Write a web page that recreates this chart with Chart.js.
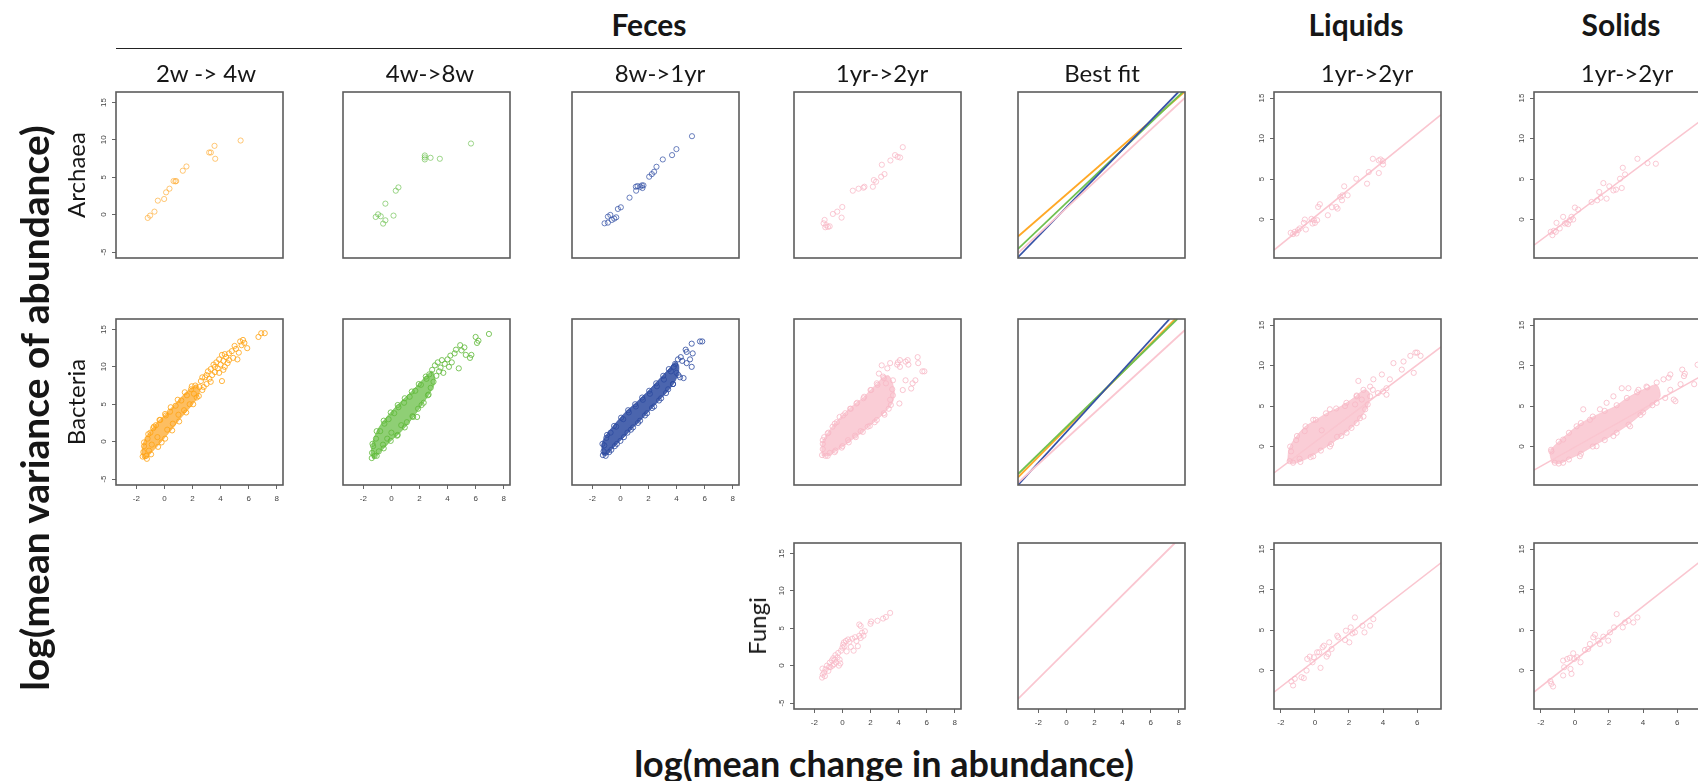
<!DOCTYPE html>
<html>
<head>
<meta charset="utf-8">
<script src="https://cdn.jsdelivr.net/npm/chart.js@4.4.1/dist/chart.umd.min.js"></script>
<style>
  body { margin: 0; width: 1698px; height: 781px; overflow: hidden; background: #fff; position: relative; font-family: Lato, "Open Sans", sans-serif; color: #161616; }
  canvas { position: absolute; }
  .t { position: absolute; white-space: nowrap; transform: translate(-50%, -50%); line-height: 1; }
  .v { transform: translate(-50%, -50%) rotate(-90deg); }
  .h { font-weight: bold; font-size: 30px; }
  .s { font-size: 24px; }
  .r { font-size: 24px; }
  .big { font-weight: bold; font-size: 36px; }
  .bigv { font-weight: bold; font-size: 39px; }
</style>
</head>
<body>
<div id="fecesLine" style="position:absolute;left:116px;top:48px;width:1066px;height:0;border-top:1.6px solid #222"></div>

<script>
// ---- axis ranges and tick labels ----
const fecesX = [-3.45, 8.45], fecesY = [-5.8, 16.4];
const sepX = [-2.4, 7.4], sepY = [-4.75, 15.75];
const fecesXTicks = [-2, 0, 2, 4, 6, 8];
const fecesYTicks = [-5, 0, 5, 10, 15];
const sepXTicks = [-2, 0, 2, 4, 6];
const sepYTicks = [0, 5, 10, 15];

// ---- Archaea (feces) ----
const archaea2w4w = [[-1.19,-0.44],[-1.02,-0.13],[-0.71,0.4],[-0.47,1.87],[-0.02,2.09],[0.12,2.98],[0.36,3.47],[0.65,4.49],[0.78,4.45],[0.84,4.49],[1.31,5.87],[1.57,6.44],[3.19,8.31],[3.31,8.31],[3.57,9.2],[3.62,7.47],[5.43,9.91]];
const archaea4w8w = [[-1.12,-0.31],[-0.95,0.04],[-0.76,-0.22],[-0.59,-1.2],[-0.43,-0.76],[-0.43,1.47],[0.15,-0.13],[0.31,3.2],[0.5,3.64],[2.38,7.91],[2.38,7.65],[2.38,7.38],[2.79,7.6],[3.45,7.47],[5.67,9.51]];
const archaea8w1yr = [[-1.13,-1.16],[-0.89,-1.07],[-0.89,-0.27],[-0.72,-0.04],[-0.61,-0.71],[-0.44,-0.53],[-0.3,-0.36],[-0.18,0.76],[0.03,0.98],[0.65,2.27],[1.12,3.2],[1.1,3.73],[1.22,3.82],[1.41,3.73],[1.53,3.91],[1.64,3.91],[1.57,3.56],[2.05,5.07],[2.24,5.42],[2.4,5.73],[2.57,6.4],[3.02,7.38],[3.68,7.96],[3.99,8.76],[5.1,10.49]];
const archaea1yr2yr = [[-1.34,-1.16],[-1.27,-0.71],[-1.15,-1.42],[-1.03,-1.64],[-0.91,-1.56],[-1.22,-1.69],[-0.68,0.09],[-0.37,0.4],[-0.01,1.02],[-0.06,-0.4],[0.74,3.2],[1.15,3.47],[1.5,3.6],[1.57,3.73],[2.17,3.73],[2.24,4.62],[2.4,4.4],[2.76,5.07],[3.0,5.42],[2.81,6.67],[3.42,7.24],[3.75,7.96],[3.94,7.73],[4.11,7.64],[4.3,9.02]];
const fitArchaea = {
  orange: [[-3.45,-2.93],[8.4,16.4]],
  green:  [[-3.45,-4.58],[8.29,16.4]],
  blue:   [[-3.45,-5.69],[7.98,16.4]],
  pink:   [[-3.45,-5.16],[8.45,15.64]]
};

// ---- Bacteria (feces): dense core outline + individual points ----
const bacteria2w4wCore = [[-1.6,-1.3],[-1.5,-0.2],[-1.2,0.9],[-0.8,1.9],[-0.4,2.8],[0,3.5],[0.5,4.5],[1.0,5.5],[1.5,6.5],[2.0,7.3],[2.3,7.6],[2.5,7.0],[2.4,6.0],[2.0,5.0],[1.5,3.9],[1.0,2.8],[0.5,1.6],[0,0.5],[-0.5,-0.6],[-1.0,-1.6],[-1.3,-2.3],[-1.55,-2.2],[-1.6,-1.3]];
const bacteria2w4w = [[-1.55,-2.0],[-1.5,-1.4],[-1.45,-0.6],[-1.3,-1.9],[-1.2,0.4],[-1.1,-1.2],[-1.0,1.2],[-0.9,-0.4],[-0.8,1.8],[-0.6,2.2],[-0.5,0.6],[-0.3,2.9],[-0.2,-0.1],[0.1,3.5],[0.2,1.6],[0.4,4.0],[0.6,2.4],[0.8,4.8],[1.0,3.6],[1.2,5.5],[1.4,4.2],[1.6,6.2],[1.8,5.0],[1.9,7.0],[2.1,6.4],[2.2,7.5],[2.3,5.9],
  [-1.45,-0.1],[-1.15,1.0],[-0.75,2.0],[-0.35,2.9],[0.05,3.7],[0.45,4.6],[0.95,5.6],[1.45,6.6],[1.95,7.4],[2.45,6.1],[2.05,5.0],[1.55,3.9],[1.05,2.7],[0.55,1.5],[0.05,0.4],[-0.45,-0.7],[-0.95,-1.7],[-1.25,-2.3],
  [2.5,7.3],[2.6,8.1],[2.7,6.9],[2.7,8.6],[2.8,7.3],[2.9,8.6],[3.0,7.7],[3.0,8.9],[3.1,9.4],[3.2,8.4],[3.3,9.7],[3.3,8.0],[3.4,8.9],[3.5,10.3],[3.6,9.3],[3.6,10.0],[3.7,10.6],[3.8,9.8],[3.9,11.0],[3.9,9.2],[4.0,10.3],[4.1,8.1],[4.1,11.6],[4.2,10.8],[4.2,9.6],[4.3,10.0],[4.3,11.7],[4.4,11.3],[4.5,10.5],[4.6,11.8],[4.6,10.9],[4.8,12.1],[4.9,11.2],[5.0,12.8],[5.1,12.4],[5.2,11.0],[5.3,11.9],[5.4,13.4],[5.5,12.9],[5.6,13.6],[5.7,13.2],[5.9,12.5],[6.7,14.0],[6.9,14.5],[7.15,14.5]];
const bacteria4w8wCore = [[-1.45,-1.6],[-1.35,-0.2],[-1.0,1.5],[-0.5,2.9],[0,4.0],[0.5,5.0],[1.0,5.9],[1.5,6.8],[2.0,7.8],[2.5,8.8],[2.9,9.4],[3.1,8.0],[2.7,6.4],[2.2,5.0],[1.6,3.4],[1.0,2.0],[0.5,1.0],[0,0.2],[-0.5,-0.8],[-1.0,-1.8],[-1.3,-2.3],[-1.45,-1.6]];
const bacteria4w8w = [[-1.4,-2.2],[-1.38,-1.5],[-1.3,-0.6],[-1.2,-1.9],[-1.1,0.4],[-0.9,-1.3],[-0.8,1.4],[-0.6,-0.4],[-0.5,2.4],[-0.3,0.4],[-0.2,3.0],[0,1.2],[0.2,3.8],[0.4,0.8],[0.5,4.6],[0.7,2.2],[0.9,5.2],[1.1,2.6],[1.3,6.0],[1.5,3.4],[1.7,6.8],[1.9,4.4],[1.83,3.3],[2.1,7.6],[2.3,5.2],[2.5,8.4],[2.6,6.2],[2.7,9.0],[2.8,7.2],[2.9,9.6],[3.0,8.0],[3.1,10.2],[3.2,8.8],[3.3,10.6],[3.4,9.4],[3.5,9.9],[3.6,10.9],[3.7,9.2],[3.8,10.4],[4.0,11.0],[4.1,10.0],[4.2,11.5],[4.3,10.6],[4.5,11.8],[4.6,12.3],[4.8,9.8],[4.9,12.9],[5.0,12.2],[5.2,12.6],[5.3,11.6],[5.6,11.2],[5.7,11.6],[6.0,14.0],[6.1,13.2],[6.2,13.5],[6.95,14.4],
  [-1.35,-0.3],[-1.05,1.4],[-0.55,2.8],[-0.05,3.9],[0.45,4.9],[0.95,5.8],[1.45,6.7],[1.95,7.7],[2.45,8.7],[2.65,6.3],[2.15,4.9],[1.55,3.3],[0.95,1.9],[0.45,0.9],[-0.05,0.1],[-0.55,-0.9],[-1.05,-1.9]];
const bacteria8w1yrCore = [[-1.3,-1.7],[-1.3,-0.2],[-1.0,0.9],[-0.5,2.1],[0,3.2],[0.5,4.2],[1.0,5.0],[1.5,5.9],[2.0,6.8],[2.5,7.8],[3.0,8.8],[3.5,9.8],[3.9,10.6],[4.15,10.2],[4.1,9.0],[3.8,7.8],[3.3,6.6],[2.8,5.6],[2.3,4.6],[1.8,3.6],[1.3,2.6],[0.8,1.7],[0.3,0.7],[-0.2,-0.2],[-0.6,-1.0],[-0.9,-1.7],[-1.1,-1.9],[-1.3,-1.7]];
const bacteria8w1yr = [[-1.25,-1.8],[-1.2,-1.3],[-1.15,-0.5],[-1.05,-1.9],[-1.0,0.5],[-0.8,-1.4],[-0.7,1.2],[-0.4,-0.6],[-0.3,2.0],[0,0.1],[0.2,3.0],[0.5,1.2],[0.6,3.9],[0.9,1.9],[1.1,4.7],[1.4,2.8],[1.6,5.6],[1.9,3.8],[2.1,6.4],[2.4,4.7],[2.6,7.4],[2.9,5.8],[3.1,8.3],[3.4,7.0],[3.6,9.4],[3.75,7.7],[3.9,10.4],[4.0,9.2],[4.13,8.9],[4.25,8.6],[4.1,11.0],[3.8,10.0],[4.5,8.5],[4.65,12.3],[4.72,10.5],[4.72,12.0],[4.96,11.0],[5.08,10.0],[5.08,13.1],[5.15,11.8],[5.67,13.4],[5.83,13.4],[4.4,10.8],[4.3,11.3],
  [-1.28,-0.3],[-0.95,0.9],[-0.45,2.1],[0.05,3.2],[0.55,4.2],[1.05,5.0],[1.55,5.9],[2.05,6.8],[2.55,7.8],[3.05,8.8],[3.45,9.7],[3.75,7.7],[3.25,6.5],[2.75,5.5],[2.25,4.5],[1.75,3.5],[1.25,2.5],[0.75,1.6],[0.25,0.6],[-0.25,-0.3],[-0.65,-1.1]];
const bacteria1yr2yrCore = [[-1.45,-1.9],[-1.45,-0.2],[-1.1,1.0],[-0.6,2.3],[0,3.5],[0.5,4.4],[1.0,5.2],[1.5,5.9],[2.0,6.9],[2.5,7.8],[2.9,8.6],[3.3,8.8],[3.6,7.6],[3.7,6.2],[3.5,5.0],[3.0,3.9],[2.5,3.0],[2.0,2.2],[1.5,1.4],[1.0,0.7],[0.5,0],[0,-0.7],[-0.5,-1.3],[-1.0,-1.9],[-1.45,-1.9]];
const bacteria1yr2yr = [[-1.45,-1.8],[-1.4,-1.0],[-1.4,-0.3],[-1.3,0.6],[-1.2,-1.9],[-1.0,1.2],[-0.9,-1.5],[-0.7,2.0],[-0.5,-1.2],[-0.4,2.6],[-0.2,3.3],[0,-0.6],[0.2,3.8],[0.4,0.2],[0.6,4.4],[0.9,0.8],[1.0,5.1],[1.3,1.4],[1.5,5.8],[1.8,2.0],[2.0,6.9],[2.3,2.6],[2.5,7.6],[2.6,9.1],[2.9,8.7],[3.0,3.6],[3.1,7.8],[3.3,4.4],[3.4,5.6],[3.6,6.2],[3.9,10.3],[3.95,10.6],[4.06,5.1],[4.1,10.9],[4.1,10.0],[4.3,6.9],[4.5,8.2],[4.5,10.7],[4.65,10.9],[4.7,10.3],[4.9,7.1],[5.0,7.8],[5.2,8.2],[5.36,11.3],[5.4,10.5],[5.7,9.4],[5.84,9.4],[3.6,8.2],[3.2,9.8],[2.8,10.2],[3.4,10.5],
  [-1.4,0.2],[-1.05,1.1],[-0.55,2.4],[0.05,3.5],[0.55,4.4],[1.05,5.2],[1.55,6.0],[2.05,6.9],[2.45,7.8],[2.95,8.5],[3.55,7.0],[3.45,4.9],[2.95,3.8],[2.45,2.9],[1.95,2.1],[1.45,1.3],[0.95,0.6],[0.45,-0.1],[-0.05,-0.8],[-0.55,-1.4],[-1.05,-1.9]];
const fitBacteria = {
  orange: [[-3.45,-4.78],[7.75,16.4]],
  green:  [[-3.45,-4.34],[7.9,16.4]],
  blue:   [[-3.45,-5.8],[7.35,16.4]],
  pink:   [[-3.45,-5.5],[8.45,14.94]]
};

// ---- Fungi (feces) ----
const fungi1yr2yr = [[-1.45,-1.6],[-1.4,-1.2],[-1.3,-0.9],[-1.42,-0.4],[-1.2,-0.5],[-1.1,0.0],[-1.0,-0.7],[-0.9,0.4],[-0.85,-0.2],[-0.75,0.7],[-0.65,1.0],[-0.6,0.2],[-0.5,1.4],[-0.45,0.4],[-0.35,1.1],[-0.3,1.7],[-0.25,0.0],[-0.2,0.8],[-0.15,0.3],[-0.1,2.0],[0,2.4],[0.05,2.8],[0.15,2.6],[0.25,3.3],[0.4,3.5],[0.5,3.2],[0.6,2.5],[0.7,3.6],[0.8,2.0],[0.9,3.8],[1.0,3.3],[1.1,2.6],[1.2,4.0],[1.3,3.7],[1.4,4.4],[1.5,4.0],[1.6,4.6],[1.2,5.5],[1.3,5.3],[2.0,5.6],[2.05,5.9],[2.5,6.0],[2.9,6.3],[3.1,6.5],[3.4,7.05],[-0.95,-0.2],[-1.25,-1.4],[-0.7,0.0],[0.3,1.9],[0.1,3.1],[-0.55,0.8]];
const fitFungi = [[-3.45,-4.46],[7.73,16.4]];

// ---- Liquids / Solids, 1yr->2yr ----
const liqArchaea = [[-1.42,-1.64],[-1.28,-1.8],[-1.18,-1.52],[-1.08,-1.72],[-0.99,-1.31],[-0.89,-1.1],[-0.65,-0.41],[-0.59,0],[-0.53,-1.23],[-0.2,0.08],[-0.14,-0.49],[-0.06,-0.08],[0,-0.41],[0.13,-0.08],[0.19,1.56],[0.29,1.89],[0.76,0.53],[1.0,1.52],[1.25,1.56],[1.33,1.35],[1.49,2.79],[1.59,2.38],[1.62,2.99],[1.72,4.1],[1.92,2.99],[2.43,5.04],[3.06,4.43],[3.16,5.86],[3.4,7.5],[3.75,5.74],[3.75,7.3],[3.85,7.42],[3.99,7.21],[4.0,6.8]];
const solArchaea = [[-1.42,-1.52],[-1.32,-1.93],[-1.24,-1.39],[-1.12,-1.52],[-1.08,-0.41],[-0.89,-1.1],[-0.69,0.33],[-0.59,-0.49],[-0.49,-0.41],[-0.4,-0.57],[-0.3,-0.08],[-0.2,0.33],[-0.1,0],[0,1.48],[0.19,1.23],[0.98,2.17],[1.31,2.38],[1.43,3.4],[1.51,2.7],[1.67,4.5],[1.86,2.58],[2.02,4.1],[2.26,3.6],[2.41,3.69],[2.65,5.04],[2.75,3.89],[2.81,6.39],[2.94,5.57],[3.67,7.5],[4.26,6.97],[4.75,6.89]];
const liqBacteriaCore = [[-1.6,-1.8],[-1.5,-0.2],[-1.1,1.2],[-0.6,2.4],[0,3.2],[0.6,4.0],[1.2,4.6],[1.8,5.3],[2.4,6.2],[2.9,7.0],[3.2,6.6],[3.1,5.0],[2.7,3.6],[2.2,2.4],[1.6,1.4],[1.0,0.4],[0.4,-0.4],[-0.2,-1.2],[-0.8,-1.8],[-1.3,-2.1],[-1.6,-1.8]];
const liqBacteria = [[-1.48,-1.8],[-1.4,-0.6],[-1.28,-2.0],[-1.1,0.8],[-0.9,-1.5],[-0.6,1.9],[-0.1,-1.2],[-0.1,3.3],[0.4,2.0],[0.88,0],[0.88,4.6],[1.3,1.2],[1.77,5.0],[1.86,1.7],[2.36,5.2],[2.45,2.9],[2.45,6.2],[2.55,8.1],[2.75,5.8],[2.85,7.0],[2.85,3.7],[2.95,4.6],[3.24,7.4],[3.24,6.2],[3.4,7.0],[3.43,8.3],[3.7,6.6],[3.93,8.9],[4.0,6.8],[4.2,6.4],[4.2,7.2],[4.4,8.3],[4.61,10.3],[5.1,9.5],[5.2,10.5],[5.6,11.2],[5.8,9.1],[5.9,11.6],[6.0,11.6],[6.2,11.2],
  [-1.45,0.0],[-1.05,1.3],[-0.55,2.5],[0.05,3.3],[0.65,4.1],[1.25,4.7],[1.85,5.4],[2.45,6.3],[3.1,5.2],[2.65,3.5],[2.15,2.3],[1.55,1.3],[0.95,0.3],[0.35,-0.5],[-0.25,-1.3],[-0.85,-1.9]];
const solBacteriaCore = [[-1.35,-2.0],[-1.45,-0.6],[-1.0,0.5],[-0.4,1.6],[0.3,2.8],[1.0,3.6],[1.7,4.3],[2.4,5.0],[3.0,5.9],[3.6,6.6],[4.2,7.2],[4.8,7.6],[5.0,6.2],[4.5,5.0],[3.9,4.0],[3.2,2.8],[2.5,1.8],[1.8,0.9],[1.1,0.1],[0.4,-0.8],[-0.3,-1.5],[-0.9,-2.1],[-1.35,-2.0]];
const solBacteria = [[-1.38,-0.6],[-1.18,-2.0],[-0.69,0.86],[-0.69,-2.0],[0.1,2.5],[0.29,-1.2],[0.49,4.6],[0.88,3.3],[1.27,0.04],[1.47,4.6],[1.86,5.4],[2.26,6.2],[2.26,1.3],[2.75,7.2],[3.14,7.2],[3.24,2.5],[3.73,7.0],[4.0,4.2],[4.2,7.4],[4.8,7.9],[4.8,5.4],[5.2,8.3],[5.3,6.0],[5.5,8.5],[5.6,8.9],[5.6,7.0],[5.8,5.8],[5.9,5.6],[6.2,7.7],[6.3,9.5],[6.4,8.7],[6.45,9.0],[7.0,7.7],[7.2,10.1],
  [-1.4,-0.4],[-0.95,0.6],[-0.35,1.7],[0.35,2.9],[1.05,3.7],[1.75,4.4],[2.45,5.1],[3.05,6.0],[3.65,6.7],[4.25,7.3],[4.55,5.1],[3.85,3.9],[3.15,2.7],[2.45,1.7],[1.75,0.8],[1.05,0.0],[0.35,-0.9],[-0.35,-1.6],[-0.95,-2.1]];
const liqFungi = [[-1.38,-1.35],[-1.28,-1.84],[-1.18,-1.02],[-0.79,-0.82],[-0.65,-0.94],[-0.49,0],[-0.45,1.43],[-0.3,1.72],[-0.14,1.02],[-0.06,1.64],[0.13,2.25],[0.25,2.25],[0.33,0.33],[0.45,2.87],[0.53,3.07],[0.69,1.72],[0.78,2.05],[0.84,3.48],[0.98,2.66],[1.31,4.3],[1.37,4.1],[1.77,3.77],[1.82,4.92],[2.02,3.48],[2.1,5.33],[2.2,4.59],[2.35,6.56],[2.35,4.71],[2.79,5.53],[2.91,4.71],[3.24,5.53],[3.43,6.35]];
const solFungi = [[-1.44,-1.31],[-1.38,-1.64],[-1.28,-1.97],[-0.69,1.23],[-0.63,0.41],[-0.69,-0.61],[-0.45,1.43],[-0.3,1.56],[-0.26,0.2],[-0.2,-0.41],[-0.1,2.13],[-0.04,1.43],[0.13,1.64],[0.33,1.02],[0.59,2.54],[0.78,2.66],[0.88,3.28],[1.08,4.1],[1.18,4.43],[1.37,3.69],[1.47,3.28],[1.67,4.18],[1.96,3.69],[2.06,4.71],[2.3,5.33],[2.45,6.97],[2.81,5.33],[2.94,5.94],[3.14,6.15],[3.43,5.94],[3.67,6.56]];
const liqFit = { archaea: [[-2.4,-3.77],[7.4,12.95]], bacteria: [[-2.4,-3.25],[7.4,12.3]], fungi: [[-2.4,-2.66],[7.4,13.3]] };
const solFit = { archaea: [[-2.4,-3.16],[7.25,12.0]], bacteria: [[-2.4,-2.92],[7.25,8.5]], fungi: [[-2.4,-2.66],[7.25,13.3]] };

// ---- layout / style ----
const colLeft = [116, 343, 572, 794, 1018, 1274, 1534];
const rowTop = [92, 319, 543];
const boxW = 167, boxH = 166;

const C = {
  orange: 'rgba(255,163,20,0.9)', orangeA: 'rgba(255,168,40,0.7)', orangeF: 'rgba(252,163,30,0.7)',
  green: 'rgba(96,186,58,0.9)', greenA: 'rgba(100,190,70,0.7)', greenF: 'rgba(96,186,58,0.7)',
  blue: 'rgba(44,74,160,0.9)', blueA: 'rgba(50,80,165,0.8)', blueF: 'rgba(44,74,160,0.85)',
  pink: 'rgba(248,184,198,0.9)', pinkA: 'rgba(248,184,198,0.85)', pinkF: 'rgba(248,188,200,0.75)',
  lineOrange: '#FFA826', lineGreen: '#70C150', lineBlue: '#3553A8', linePink: '#FAC6D0'
};

const toXY = arr => arr.map(([x, y]) => ({ x, y }));
const dots = (arr, color) => ({ type: 'scatter', data: toXY(arr), pointRadius: 2.6, pointBorderWidth: 0.9, borderColor: color, backgroundColor: 'rgba(0,0,0,0)', order: 1 });
const line = (arr, color, w) => ({ type: 'line', data: toXY(arr), borderColor: color, borderWidth: w || 1.8, pointRadius: 0, fill: false, tension: 0, order: 2 });
const cloud = (arr, color) => ({ type: 'line', data: toXY(arr), borderColor: color, borderWidth: 0.8, backgroundColor: color, fill: 'shape', pointRadius: 0, tension: 0.3, order: 3 });

const boxPlugin = {
  id: 'box',
  afterDatasetsDraw(chart) {
    const { ctx, chartArea: a } = chart;
    ctx.save();
    ctx.strokeStyle = '#5c5c5c';
    ctx.lineWidth = 1.6;
    ctx.strokeRect(a.left, a.top, a.right - a.left, a.bottom - a.top);
    ctx.restore();
  }
};

function axis(range, ticks, show, horizontal, size) {
  return {
    type: 'linear', min: range[0], max: range[1],
    afterBuildTicks: s => { s.ticks = ticks.map(v => ({ value: v })); },
    afterFit: s => { if (horizontal) s.height = size; else s.width = size; },
    border: { display: false },
    grid: { display: show, drawOnChartArea: false, drawTicks: true, tickLength: 4, color: '#666', lineWidth: 1 },
    ticks: {
      display: show, autoSkip: false, color: '#444',
      font: { family: 'Liberation Sans', size: 8 },
      padding: horizontal ? 5 : 4,
      minRotation: horizontal ? 0 : 90, maxRotation: horizontal ? 0 : 90,
      crossAlign: horizontal ? 'near' : 'center'
    }
  };
}

function panel(col, row, kind, showX, showY, datasets) {
  const L = 34, T = 10, R = 10, B = 30;
  const cv = document.createElement('canvas');
  const w = L + boxW + R, h = T + boxH + B;
  cv.width = w; cv.height = h;
  cv.style.left = (colLeft[col] - L) + 'px';
  cv.style.top = (rowTop[row] - T) + 'px';
  cv.style.width = w + 'px'; cv.style.height = h + 'px';
  document.body.appendChild(cv);
  const fx = kind === 'feces';
  new Chart(cv, {
    type: 'scatter',
    data: { datasets },
    options: {
      responsive: false, animation: false, devicePixelRatio: 1,
      layout: { padding: { top: T, right: R, left: 0, bottom: 0 } },
      plugins: { legend: { display: false }, tooltip: { enabled: false } },
      scales: {
        x: axis(fx ? fecesX : sepX, fx ? fecesXTicks : sepXTicks, showX, true, B),
        y: axis(fx ? fecesY : sepY, fx ? fecesYTicks : sepYTicks, showY, false, L)
      }
    },
    plugins: [boxPlugin]
  });
}

// Row 1: Archaea
panel(0, 0, 'feces', false, true, [dots(archaea2w4w, C.orangeA)]);
panel(1, 0, 'feces', false, false, [dots(archaea4w8w, C.greenA)]);
panel(2, 0, 'feces', false, false, [dots(archaea8w1yr, C.blueA)]);
panel(3, 0, 'feces', false, false, [dots(archaea1yr2yr, C.pinkA)]);
panel(4, 0, 'feces', false, false, [line(fitArchaea.pink, C.linePink), line(fitArchaea.blue, C.lineBlue), line(fitArchaea.green, C.lineGreen), line(fitArchaea.orange, C.lineOrange)]);
panel(5, 0, 'sep', false, true, [dots(liqArchaea, C.pinkA), line(liqFit.archaea, C.linePink, 1.5)]);
panel(6, 0, 'sep', false, true, [dots(solArchaea, C.pinkA), line(solFit.archaea, C.linePink, 1.5)]);

// Row 2: Bacteria
panel(0, 1, 'feces', true, true, [cloud(bacteria2w4wCore, C.orangeF), dots(bacteria2w4w, C.orange)]);
panel(1, 1, 'feces', true, false, [cloud(bacteria4w8wCore, C.greenF), dots(bacteria4w8w, C.green)]);
panel(2, 1, 'feces', true, false, [cloud(bacteria8w1yrCore, C.blueF), dots(bacteria8w1yr, C.blue)]);
panel(3, 1, 'feces', false, false, [cloud(bacteria1yr2yrCore, C.pinkF), dots(bacteria1yr2yr, C.pink)]);
panel(4, 1, 'feces', false, false, [line(fitBacteria.pink, C.linePink), line(fitBacteria.blue, C.lineBlue), line(fitBacteria.green, C.lineGreen), line(fitBacteria.orange, C.lineOrange)]);
panel(5, 1, 'sep', false, true, [cloud(liqBacteriaCore, C.pinkF), dots(liqBacteria, C.pink), line(liqFit.bacteria, C.linePink, 1.5)]);
panel(6, 1, 'sep', false, true, [cloud(solBacteriaCore, C.pinkF), dots(solBacteria, C.pink), line(solFit.bacteria, C.linePink, 1.5)]);

// Row 3: Fungi
panel(3, 2, 'feces', true, true, [dots(fungi1yr2yr, C.pinkA)]);
panel(4, 2, 'feces', true, false, [line(fitFungi, C.linePink)]);
panel(5, 2, 'sep', true, true, [dots(liqFungi, C.pinkA), line(liqFit.fungi, C.linePink, 1.5)]);
panel(6, 2, 'sep', true, true, [dots(solFungi, C.pinkA), line(solFit.fungi, C.linePink, 1.5)]);

// ---- text ----
const labels = [
  ['Feces', 649, 24, 'h'], ['Liquids', 1356, 24, 'h'], ['Solids', 1621, 24, 'h'],
  ['2w -> 4w', 206, 73, 's'], ['4w->8w', 430, 73, 's'], ['8w->1yr', 660, 73, 's'], ['1yr->2yr', 882, 73, 's'],
  ['Best fit', 1102, 73, 's'], ['1yr->2yr', 1367, 73, 's'], ['1yr->2yr', 1627, 73, 's'],
  ['Archaea', 76, 175, 'r v'], ['Bacteria', 76, 402, 'r v'], ['Fungi', 757, 626, 'r v'],
  ['log(mean variance of abundance)', 34, 408, 'bigv v'], ['log(mean change in abundance)', 884, 763, 'big']
];
labels.forEach(([txt, x, y, cls]) => {
  const d = document.createElement('div');
  d.className = 't ' + cls;
  d.textContent = txt;
  d.style.left = x + 'px';
  d.style.top = y + 'px';
  document.body.appendChild(d);
});
</script>
</body>
</html>
